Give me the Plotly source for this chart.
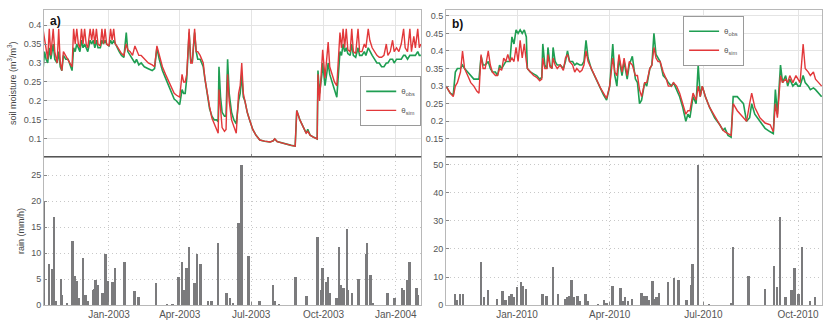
import pandas as pd
import plotly.graph_objects as go

# ---------------- Site a: 2002-2004 ----------------
# days counted from 2003-01-01
a_sm_day = [-84, -82, -80, -78, -76, -74, -71, -69, -66, -64, -62, -60, -58, -55, -52, -49, -47,
            -45, -43, -41, -39, -37, -35, -33, -31, -29, -27, -24, -22, -20, -18, -16, -14, -11,
            -9, -7, -5, -3, 0, 2, 4, 6, 8, 10, 13, 16, 19, 22, 24, 27, 30, 33, 35, 38, 41, 45,
            50, 55, 58, 61, 64, 68, 72, 76, 80, 83, 86, 90, 93, 95, 97, 99, 102, 104, 106, 109,
            111, 113, 116, 118, 120, 122, 125, 128, 131, 134, 137, 139, 140, 142, 144, 147, 149,
            151, 153, 156, 159, 162, 165, 167, 169, 171, 173, 176, 179, 183, 187, 192, 198, 205,
            209, 211, 214, 220, 226, 232, 237, 239, 243, 248, 251, 253, 256, 260, 265, 266, 268,
            271, 272, 275, 277, 279, 281, 284, 287, 290, 292, 294, 296, 298, 300, 302, 304, 307,
            309, 311, 314, 317, 319, 322, 325, 327, 330, 332, 335, 338, 341, 344, 347, 350, 353,
            355, 358, 361, 363, 366, 369, 372, 375, 377, 380, 383, 385, 388, 390, 393, 395, 397]
a_obs = [0.28, 0.33, 0.31, 0.30, 0.34, 0.31, 0.35, 0.31, 0.30, 0.33, 0.29, 0.28, 0.32, 0.31, 0.31,
         0.29, 0.28, 0.34, 0.33, 0.35, 0.34, 0.33, 0.36, 0.34, 0.35, 0.34, 0.33, 0.36, 0.35, 0.36,
         0.34, 0.36, 0.34, 0.34, 0.36, 0.35, 0.36, 0.35, 0.345, 0.36, 0.35, 0.36, 0.35, 0.34, 0.33,
         0.32, 0.315, 0.38, 0.33, 0.32, 0.31, 0.30, 0.31, 0.295, 0.30, 0.29, 0.285, 0.28, 0.285,
         0.34, 0.31, 0.28, 0.26, 0.24, 0.22, 0.205, 0.20, 0.19, 0.23, 0.22, 0.22, 0.26, 0.38, 0.31,
         0.30, 0.38, 0.33, 0.31, 0.31, 0.30, 0.29, 0.26, 0.22, 0.18, 0.16, 0.15, 0.15, 0.145, 0.29,
         0.21, 0.17, 0.16, 0.16, 0.31, 0.22, 0.17, 0.15, 0.14, 0.20, 0.22, 0.27, 0.21, 0.20, 0.17,
         0.15, 0.125, 0.11, 0.097, 0.094, 0.092, 0.095, 0.10, 0.093, 0.089, 0.085, 0.083, 0.081,
         0.175, 0.15, 0.13, 0.115, 0.125, 0.11, 0.105, 0.10, 0.28, 0.22, 0.27, 0.30, 0.24, 0.27,
         0.30, 0.27, 0.25, 0.23, 0.21, 0.27, 0.33, 0.32, 0.35, 0.33, 0.34, 0.325, 0.32, 0.35, 0.32,
         0.315, 0.34, 0.32, 0.32, 0.33, 0.32, 0.34, 0.33, 0.32, 0.31, 0.30, 0.30, 0.29, 0.29, 0.30,
         0.30, 0.31, 0.31, 0.30, 0.31, 0.31, 0.31, 0.32, 0.32, 0.31, 0.32, 0.32, 0.32, 0.32, 0.33,
         0.32, 0.32]
a_sim = [0.39, 0.36, 0.33, 0.31, 0.39, 0.32, 0.39, 0.33, 0.30, 0.39, 0.30, 0.28, 0.33, 0.32, 0.31,
         0.30, 0.29, 0.39, 0.35, 0.39, 0.35, 0.34, 0.39, 0.35, 0.39, 0.35, 0.34, 0.39, 0.36, 0.39,
         0.35, 0.39, 0.35, 0.345, 0.39, 0.35, 0.39, 0.35, 0.345, 0.39, 0.36, 0.39, 0.35, 0.345,
         0.335, 0.325, 0.32, 0.35, 0.335, 0.33, 0.32, 0.345, 0.335, 0.32, 0.32, 0.31, 0.30, 0.295,
         0.29, 0.345, 0.32, 0.29, 0.27, 0.25, 0.23, 0.22, 0.215, 0.21, 0.27, 0.25, 0.25, 0.27, 0.39,
         0.30, 0.30, 0.39, 0.33, 0.33, 0.32, 0.31, 0.30, 0.26, 0.22, 0.185, 0.155, 0.14, 0.125,
         0.115, 0.23, 0.17, 0.13, 0.12, 0.125, 0.27, 0.20, 0.15, 0.13, 0.115, 0.22, 0.24, 0.30,
         0.22, 0.20, 0.17, 0.15, 0.125, 0.11, 0.097, 0.094, 0.092, 0.095, 0.10, 0.093, 0.089, 0.085,
         0.083, 0.081, 0.175, 0.15, 0.13, 0.115, 0.12, 0.11, 0.105, 0.10, 0.27, 0.20, 0.30, 0.335,
         0.26, 0.31, 0.355, 0.29, 0.27, 0.25, 0.24, 0.30, 0.38, 0.34, 0.39, 0.34, 0.39, 0.335, 0.33,
         0.39, 0.33, 0.325, 0.39, 0.33, 0.33, 0.35, 0.34, 0.39, 0.36, 0.34, 0.33, 0.32, 0.315,
         0.315, 0.32, 0.35, 0.32, 0.33, 0.36, 0.33, 0.34, 0.33, 0.35, 0.39, 0.34, 0.33, 0.39, 0.33,
         0.37, 0.34, 0.39, 0.34, 0.35]

a_rain_day = [-83, -82, -76, -72, -70, -67, -61, -60, -53, -46, -43, -41, -38, -33, -31, -29, -27,
              -20, -19, -17, -14, -8, -4, -1, 5, 8, 20, 33, 38, 60, 74, 81, 89, 93, 95, 99, 102,
              109, 112, 117, 126, 131, 139, 150, 154, 158, 165, 169, 178, 192, 209, 211, 217, 238,
              252, 266, 270, 272, 277, 279, 281, 290, 293, 296, 299, 303, 304, 310, 318, 328, 329,
              333, 336, 355, 364, 373, 375, 380, 383, 392, 394]
a_rain = [20, 2.5, 8, 7, 17, 1, 5.2, 2, 0.5, 12.5, 5.7, 4.8, 1.5, 9.1, 2, 2, 1, 3, 3.2, 5, 4, 2.5,
          10, 4.8, 4.5, 7.2, 8.4, 2.8, 1.6, 4.4, 0.3, 0.3, 5.5, 8.4, 3, 7.2, 11.2, 4.3, 10, 8, 1,
          1, 12, 2.5, 1.5, 0.5, 16, 27, 9.6, 1, 4, 1, 0.3, 5.5, 1.8, 13.2, 3, 7.2, 4.5, 5.5, 2.5,
          1.5, 11.2, 4, 3.5, 14.8, 3, 2.5, 5.1, 10, 12, 6, 0.5, 2.5, 1.5, 3.5, 3, 5, 8.5, 3.5, 2]

# ---------------- Site b: 2009-2010 ----------------
# days counted from 2010-01-01
b_sm_day = [-69, -67, -65, -62, -60, -58, -55, -53, -51, -48, -45, -42, -39, -37, -35, -33, -31,
            -28, -26, -24, -21, -19, -17, -15, -13, -11, -9, -7, -5, -3, -1, 1, 3, 5, 7, 9, 10,
            13, 16, 19, 22, 24, 25, 27, 29, 30, 32, 34, 35, 37, 39, 42, 45, 47, 49, 51, 54, 56,
            58, 61, 63, 65, 67, 69, 72, 75, 78, 81, 84, 87, 90, 93, 95, 97, 99, 102, 104, 107,
            109, 112, 115, 117, 119, 121, 124, 126, 129, 131, 133, 135, 137, 139, 142, 145, 147,
            150, 152, 155, 158, 161, 164, 166, 168, 171, 174, 176, 178, 180, 183, 187, 192, 197,
            200, 202, 205, 208, 210, 212, 214, 217, 220, 223, 226, 228, 231, 236, 241, 246, 249,
            251, 253, 256, 258, 261, 263, 265, 268, 271, 273, 275, 278, 280, 283, 285, 288, 290,
            293, 296]
b_obs = [0.30, 0.29, 0.28, 0.275, 0.34, 0.35, 0.35, 0.36, 0.35, 0.34, 0.33, 0.32, 0.32, 0.32,
         0.385, 0.36, 0.36, 0.37, 0.35, 0.34, 0.34, 0.33, 0.36, 0.35, 0.36, 0.37, 0.37, 0.37, 0.44,
         0.42, 0.46, 0.45, 0.46, 0.45, 0.46, 0.44, 0.35, 0.34, 0.335, 0.33, 0.32, 0.325, 0.42,
         0.36, 0.35, 0.41, 0.36, 0.35, 0.41, 0.37, 0.36, 0.36, 0.35, 0.37, 0.40, 0.37, 0.37, 0.36,
         0.365, 0.36, 0.36, 0.37, 0.43, 0.38, 0.35, 0.33, 0.31, 0.29, 0.275, 0.26, 0.30, 0.42,
         0.33, 0.30, 0.38, 0.33, 0.37, 0.32, 0.36, 0.385, 0.32, 0.31, 0.25, 0.26, 0.31, 0.30, 0.35,
         0.36, 0.45, 0.39, 0.38, 0.37, 0.33, 0.32, 0.31, 0.30, 0.31, 0.29, 0.27, 0.24, 0.20, 0.22,
         0.21, 0.27, 0.25, 0.36, 0.27, 0.30, 0.27, 0.24, 0.21, 0.19, 0.175, 0.18, 0.16, 0.155, 0.27,
         0.27, 0.27, 0.26, 0.25, 0.20, 0.21, 0.25, 0.22, 0.20, 0.18, 0.17, 0.165, 0.29, 0.22, 0.36,
         0.31, 0.33, 0.30, 0.32, 0.30, 0.31, 0.30, 0.30, 0.33, 0.31, 0.30, 0.29, 0.295, 0.29, 0.28,
         0.27]
b_sim = [0.30, 0.29, 0.28, 0.27, 0.30, 0.31, 0.34, 0.40, 0.35, 0.33, 0.31, 0.30, 0.285, 0.28, 0.39,
         0.35, 0.35, 0.40, 0.36, 0.34, 0.33, 0.33, 0.35, 0.345, 0.38, 0.37, 0.39, 0.37, 0.38, 0.37,
         0.41, 0.37, 0.43, 0.38, 0.42, 0.37, 0.35, 0.34, 0.33, 0.325, 0.315, 0.32, 0.38, 0.35,
         0.35, 0.39, 0.355, 0.35, 0.38, 0.36, 0.35, 0.36, 0.345, 0.38, 0.39, 0.37, 0.36, 0.34,
         0.35, 0.34, 0.345, 0.36, 0.40, 0.37, 0.35, 0.33, 0.31, 0.295, 0.28, 0.265, 0.30, 0.38,
         0.34, 0.33, 0.39, 0.34, 0.38, 0.33, 0.37, 0.36, 0.33, 0.33, 0.29, 0.27, 0.31, 0.31, 0.35,
         0.36, 0.41, 0.38, 0.37, 0.37, 0.34, 0.32, 0.30, 0.30, 0.31, 0.30, 0.28, 0.25, 0.22, 0.23,
         0.23, 0.28, 0.26, 0.30, 0.27, 0.30, 0.27, 0.24, 0.215, 0.19, 0.175, 0.17, 0.165, 0.16,
         0.25, 0.24, 0.23, 0.22, 0.21, 0.20, 0.25, 0.28, 0.24, 0.21, 0.195, 0.19, 0.17, 0.25, 0.21,
         0.33, 0.31, 0.32, 0.31, 0.33, 0.31, 0.33, 0.32, 0.31, 0.42, 0.35, 0.34, 0.33, 0.34, 0.32,
         0.31, 0.30]

b_rain_day = [-60, -58, -55, -52, -35, -32, -28, -19, -14, -11, -7, -5, -3, 0, 4, 6, 9, 25, 29,
              35, 40, 47, 49, 51, 53, 55, 59, 61, 67, 69, 79, 85, 87, 93, 101, 103, 105, 108, 112,
              121, 123, 126, 128, 132, 133, 136, 138, 147, 153, 157, 165, 170, 171, 176, 187, 208,
              210, 225, 241, 250, 253, 256, 261, 267, 270, 274, 277, 285, 290]
b_rain = [4.2, 2, 4, 4, 15.5, 3, 5.6, 2.5, 5.2, 2, 3.5, 4, 3, 6.7, 8.4, 7, 6, 4, 3.5, 13.7, 4.3,
          2.5, 3, 3.5, 9.1, 3, 3.5, 1.5, 4, 1.5, 0.5, 2, 1, 7, 6.3, 1.5, 3, 1.5, 2.5, 4.5, 3.5,
          3.5, 2, 8.8, 2.5, 3, 4.5, 8.5, 9.9, 9.2, 2, 7.5, 14.8, 50, 0.7, 0.8, 21, 10.5, 6, 14,
          6.5, 31.6, 3, 5.5, 13.4, 4, 21, 1.5, 3]

a_sm_ticks = [0.1, 0.15, 0.2, 0.25, 0.3, 0.35, 0.4]
b_sm_ticks = [0.15, 0.2, 0.25, 0.3, 0.35, 0.4, 0.45, 0.5]
a_rain_ticks = [0, 5, 10, 15, 20, 25]
b_rain_ticks = [0, 10, 20, 30, 40, 50]
a_date_ticks = ["2003-01-01", "2003-04-01", "2003-07-01", "2003-10-01", "2004-01-01"]
a_date_labels = ["Jan-2003", "Apr-2003", "Jul-2003", "Oct-2003", "Jan-2004"]
b_date_ticks = ["2010-01-01", "2010-04-01", "2010-07-01", "2010-10-01"]
b_date_labels = ["Jan-2010", "Apr-2010", "Jul-2010", "Oct-2010"]


def to_dates(start, days):
    return pd.Timestamp(start) + pd.to_timedelta(days, unit="D")


GREEN = "#1f9e52"
RED = "#e2383a"
BAR = "#7b7b7d"
FONT = "Liberation Sans"
DAY_MS = 86400000

fig = go.Figure()

a_sm_x = to_dates("2003-01-01", a_sm_day)
b_sm_x = to_dates("2010-01-01", b_sm_day)

fig.add_trace(go.Scatter(x=a_sm_x, y=a_obs, mode="lines", line=dict(color=GREEN, width=1.6),
                         name="θ<sub>obs</sub>", xaxis="x", yaxis="y", legend="legend"))
fig.add_trace(go.Scatter(x=a_sm_x, y=a_sim, mode="lines", line=dict(color=RED, width=1.4),
                         name="θ<sub>sim</sub>", xaxis="x", yaxis="y", legend="legend"))
fig.add_trace(go.Bar(x=to_dates("2003-01-01", a_rain_day), y=a_rain, width=2.4 * DAY_MS,
                     marker=dict(color=BAR, line=dict(width=0)), showlegend=False,
                     xaxis="x2", yaxis="y2"))
fig.add_trace(go.Scatter(x=b_sm_x, y=b_obs, mode="lines", line=dict(color=GREEN, width=1.6),
                         name="θ<sub>obs</sub>", xaxis="x3", yaxis="y3", legend="legend2"))
fig.add_trace(go.Scatter(x=b_sm_x, y=b_sim, mode="lines", line=dict(color=RED, width=1.4),
                         name="θ<sub>sim</sub>", xaxis="x3", yaxis="y3", legend="legend2"))
fig.add_trace(go.Bar(x=to_dates("2010-01-01", b_rain_day), y=b_rain, width=1.9 * DAY_MS,
                     marker=dict(color=BAR, line=dict(width=0)), showlegend=False,
                     xaxis="x4", yaxis="y4"))

ytickfont = dict(family=FONT, size=9, color="#555555")
xtickfont = dict(family=FONT, size=10, color="#555555")
frame = "#b8b8b8"
grid_top = "#e4e4e4"
grid_bot = "#c8c8c8"

XA = [0.0535, 0.5118]
XB = [0.5420, 0.9988]
YT = [0.5138, 0.9694]
YB = [0.052, 0.5138]

a_range = ["2002-10-10 08:00", "2004-02-02 10:00"]
b_range = ["2009-10-24 00:00", "2010-10-24 08:00"]


def xaxis(domain, rng, ticks, labels, anchor, show_labels, gridcolor, griddash):
    return dict(domain=domain, range=rng, anchor=anchor, type="date",
                tickvals=ticks, ticktext=labels, showticklabels=show_labels,
                tickfont=xtickfont, ticks="inside", ticklen=3, tickcolor="#888888",
                showline=True, linecolor=frame, linewidth=1, mirror=True,
                showgrid=True, gridcolor=gridcolor, griddash=griddash, gridwidth=1,
                zeroline=False)


def yaxis(domain, rng, ticks, anchor, gridcolor, griddash, title=None):
    d = dict(domain=domain, range=rng, anchor=anchor, tickvals=ticks,
             ticktext=[f"{t:g}" for t in ticks], tickfont=ytickfont,
             ticks="inside", ticklen=3, tickcolor="#888888",
             showline=True, linecolor=frame, linewidth=1, mirror=True,
             showgrid=True, gridcolor=gridcolor, griddash=griddash, gridwidth=1,
             zeroline=False)
    if title:
        d["title"] = dict(text=title, font=dict(family=FONT, size=9, color="#444444"), standoff=5)
    return d


fig.update_layout(
    width=823, height=327,
    margin=dict(l=0, r=0, t=0, b=0),
    paper_bgcolor="white", plot_bgcolor="white",
    font=dict(family=FONT, size=9, color="#444444"),
    bargap=0,
    xaxis=xaxis(XA, a_range, a_date_ticks, a_date_labels, "y", False, grid_top, "solid"),
    yaxis=yaxis(YT, [0.0535, 0.440], a_sm_ticks, "x", grid_top, "solid",
                "soil moisture (m<sup>3</sup>/m<sup>3</sup>)"),
    xaxis2=xaxis(XA, a_range, a_date_ticks, a_date_labels, "y2", True, grid_bot, "1px,3px"),
    yaxis2=yaxis(YB, [0, 28.6], a_rain_ticks, "x2", grid_bot, "1px,3px", "rain (mm/h)"),
    xaxis3=xaxis(XB, b_range, b_date_ticks, b_date_labels, "y3", False, grid_top, "solid"),
    yaxis3=yaxis(YT, [0.0996, 0.517], b_sm_ticks, "x3", grid_top, "solid"),
    xaxis4=xaxis(XB, b_range, b_date_ticks, b_date_labels, "y4", True, grid_bot, "1px,3px"),
    yaxis4=yaxis(YB, [0, 52.8], b_rain_ticks, "x4", grid_bot, "1px,3px"),
    legend=dict(x=0.5118, y=0.7645, xanchor="right", yanchor="top",
                bgcolor="white", bordercolor="#9a9a9a", borderwidth=1,
                font=dict(family=FONT, size=8, color="#555555"),
                itemwidth=30, tracegroupgap=0),
    legend2=dict(x=0.83, y=0.951, xanchor="left", yanchor="top",
                 bgcolor="white", bordercolor="#9a9a9a", borderwidth=1,
                 font=dict(family=FONT, size=8, color="#555555"),
                 itemwidth=30, tracegroupgap=0),
    annotations=[
        dict(text="<b>a)</b>", x=0.01, y=0.985, xref="x domain", yref="y domain",
             xanchor="left", yanchor="top", showarrow=False,
             font=dict(family=FONT, size=12, color="#111111")),
        dict(text="<b>b)</b>", x=0.01, y=0.965, xref="x3 domain", yref="y3 domain",
             xanchor="left", yanchor="top", showarrow=False,
             font=dict(family=FONT, size=12, color="#111111")),
    ],
    shapes=[
        dict(type="line", xref="x domain", yref="y domain", x0=0, x1=1, y0=0, y1=0,
             line=dict(color="#555555", width=1.2)),
        dict(type="line", xref="x3 domain", yref="y3 domain", x0=0, x1=1, y0=0, y1=0,
             line=dict(color="#555555", width=1.2)),
    ],
)

fig.write_html("out.html")
